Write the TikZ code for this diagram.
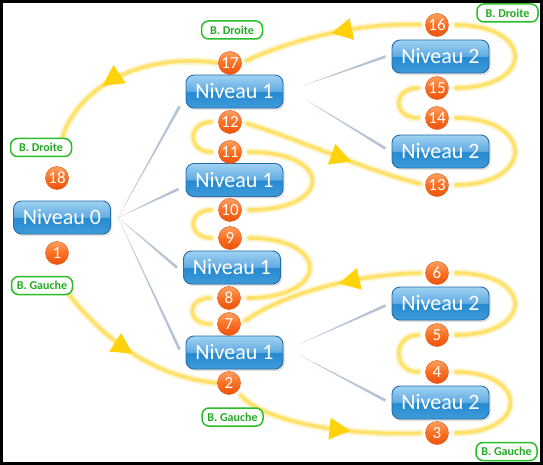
\documentclass[tikz,border=0pt]{standalone}
\usepackage{fontspec}
\setmainfont{Carlito}
\usetikzlibrary{arrows.meta,decorations.markings,calc,shadows}
\definecolor{gBb}{RGB}{62,155,218}
\definecolor{gB}{RGB}{38,138,208}
\definecolor{gM}{RGB}{98,172,226}
\definecolor{gT}{RGB}{160,210,242}
\definecolor{nborder}{RGB}{38,108,168}
\definecolor{o1}{RGB}{238,82,12}
\definecolor{o2}{RGB}{250,112,35}
\definecolor{o3}{RGB}{255,160,95}
\definecolor{oborder}{RGB}{225,90,25}
\definecolor{lgreen}{RGB}{40,190,40}
\definecolor{lgreentext}{RGB}{35,170,35}
\definecolor{linkc}{RGB}{140,165,192}
\definecolor{trailc}{RGB}{255,226,110}
\definecolor{glowc}{RGB}{255,245,205}
\definecolor{arrowc}{RGB}{255,210,10}
\pgfdeclareverticalshading{gloss}{100bp}{color(0bp)=(gBb); color(25bp)=(gBb); color(49bp)=(gB); color(51bp)=(gM); color(75bp)=(gT); color(100bp)=(gT)}
\pgfdeclareverticalshading{orb}{100bp}{color(0bp)=(o1); color(25bp)=(o1); color(50bp)=(o2); color(75bp)=(o3); color(100bp)=(o3)}
\pgfdeclarelayer{bg}
\pgfsetlayers{bg,main}
\tikzset{
  nbox/.style={rounded corners=8pt, minimum width=97pt, minimum height=33pt, draw=nborder,
    line width=0.9pt, shading=gloss, text=white, font=\fontsize{22}{22}\selectfont, inner sep=0pt,
    drop shadow={shadow xshift=1.5pt, shadow yshift=-2pt, opacity=0.25}},
  num/.style={circle, minimum size=23pt, inner sep=0pt, shading=orb, draw=oborder, line width=0.5pt,
    text=white, font=\fontsize{17}{17}\selectfont},
  lab/.style={rounded corners=7pt, draw=lgreen, line width=1.5pt, fill=white, text=lgreentext,
    font=\bfseries\fontsize{12}{12}\selectfont, minimum width=61pt, minimum height=18pt, inner sep=1pt},
  trail/.style={draw=trailc, line width=3.6pt, line cap=round, shorten <=#1, shorten >=#1,
    preaction={draw=glowc, line width=7.5pt, line cap=round, shorten <=#1, shorten >=#1}},
  trail/.default=7pt,
  midarrow/.style={postaction={decorate, decoration={markings,
    mark=at position #1 with {\arrow[arrowc]{Triangle[length=21pt,width=21pt]}}}}},
  rloop/.style={out=0, in=0, distance=#1},
  lloop/.style={out=180, in=180, distance=#1},
}
\newcommand{\taper}[2]{\fill[linkc, opacity=0.65] (#1) -- ($(#2)!1.4pt!90:(#1)$) -- ($(#2)!1.4pt!-90:(#1)$) -- cycle;}
\begin{document}
\begin{tikzpicture}[x=1pt, y=-1pt]
\useasboundingbox (0,0) rectangle (543,465);

% boxes
\node[nbox] (n0) at (62,217.5) {Niveau 0};
\node[nbox] (n1a) at (234.5,91.5) {Niveau 1};
\node[nbox] (n1b) at (234.5,180) {Niveau 1};
\node[nbox] (n1c) at (232,267.5) {Niveau 1};
\node[nbox] (n1d) at (234.5,352.5) {Niveau 1};
\node[nbox] (n2a) at (440.5,56.5) {Niveau 2};
\node[nbox] (n2b) at (440.5,151.5) {Niveau 2};
\node[nbox] (n2c) at (440.5,303.5) {Niveau 2};
\node[nbox] (n2d) at (440.5,402.5) {Niveau 2};

% numbered circles
\node[num] (c18) at (57,178) {18};
\node[num] (c1) at (57,253) {1};
\node[num] (c17) at (230,63) {17};
\node[num] (c12) at (230,122) {12};
\node[num] (c11) at (230,152) {11};
\node[num] (c10) at (230,210) {10};
\node[num] (c9) at (230,238) {9};
\node[num] (c8) at (229,298) {8};
\node[num] (c7) at (229,324) {7};
\node[num] (c2) at (229,383) {2};
\node[num] (c16) at (437,25) {16};
\node[num] (c15) at (437,88) {15};
\node[num] (c14) at (437,118) {14};
\node[num] (c13) at (437,185) {13};
\node[num] (c6) at (437,273) {6};
\node[num] (c5) at (437,335) {5};
\node[num] (c4) at (437,372) {4};
\node[num] (c3) at (437,433) {3};

% labels
\node[lab] (ld1) at (232,30) {B. Droite};
\node[lab] (ld2) at (507.5,13) {B. Droite};
\node[lab] (ld3) at (41,147.5) {B. Droite};
\node[lab] (lg1) at (42,285.5) {B. Gauche};
\node[lab] (lg2) at (232.5,417) {B. Gauche};
\node[lab] (lg3) at (506.5,451.5) {B. Gauche};

\draw[line width=3pt] (1.5,1.5) rectangle (541.5,463.5);

\begin{pgfonlayer}{bg}
\fill[white] (0,0) rectangle (543,465);
% tree links
\coordinate (s0) at ($(n0.east)+(7,0)$);
\taper{s0}{$(n1a.south west)+(-6,-2)$}
\taper{s0}{$(n1b.west)+(-7,9)$}
\taper{s0}{$(n1c.west)+(-6,0)$}
\taper{s0}{$(n1d.west)+(-6,-3)$}
\coordinate (sa1) at ($(n1a.east)+(20,-6)$);
\coordinate (sa2) at ($(n1a.east)+(22,8)$);
\taper{sa1}{$(n2a.west)+(-6,0)$}
\taper{sa2}{$(n2b.west)+(-6,-3)$}
\coordinate (sd1) at ($(n1d.east)+(15,-8)$);
\coordinate (sd2) at ($(n1d.east)+(15,2)$);
\taper{sd1}{$(n2c.west)+(-6,2)$}
\taper{sd2}{$(n2d.west)+(-6,-2)$}

% traversal
\coordinate (t1) at ($(lg1.south east)+(-6,-3)$);
\coordinate (t18) at ($(ld3.north)+(20,4)$);
\draw[trail=0pt, midarrow=0.5] (t1) .. controls (90,322) and (140,376) .. (c2.west);
\draw[trail=5pt, midarrow=0.62] (c2.south east) .. controls (260,418) and (330,436) .. (c3.west);
\draw[trail] (c3.east) to[rloop=80pt] (c4.east);
\draw[trail] (c4.west) to[lloop=33pt] (c5.west);
\draw[trail] (c5.east) to[rloop=86pt] (c6.east);
\draw[trail=5pt, midarrow=0.45] (c6.west) .. controls (360,274) and (285,292) .. (c7.east);
\draw[trail] (c7.west) to[lloop=31pt] (c8.west);
\draw[trail] (c8.east) to[rloop=89pt] (c9.east);
\draw[trail] (c9.west) to[lloop=31pt] (c10.west);
\draw[trail] (c10.east) to[rloop=92pt] (c11.east);
\draw[trail] (c11.west) to[lloop=31pt] (c12.west);
\draw[trail=5pt, midarrow=0.6] (c12.east) .. controls (290,136) and (370,172) .. (c13.west);
\draw[trail] (c13.east) to[rloop=86pt] (c14.east);
\draw[trail] (c14.west) to[lloop=33pt] (c15.west);
\draw[trail] (c15.east) to[rloop=86pt] (c16.east);
\draw[trail=5pt, midarrow=0.5] (c16.west) .. controls (360,22) and (290,40) .. (c17.east);
\draw[trail=0pt, midarrow=0.63] (c17.west) .. controls (140,52) and (75,88) .. (t18);
\end{pgfonlayer}
\end{tikzpicture}
\end{document}
